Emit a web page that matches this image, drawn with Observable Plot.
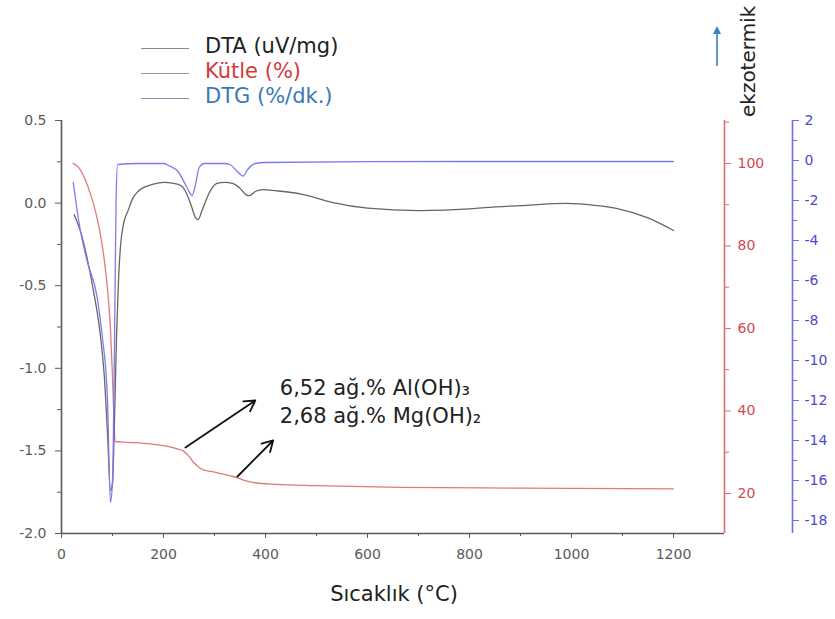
<!DOCTYPE html>
<html>
<head>
<meta charset="utf-8">
<script src="https://cdn.jsdelivr.net/npm/d3@7"></script>
<script src="https://cdn.jsdelivr.net/npm/@observablehq/plot@0.6"></script>
<style>
  body { margin: 0; background: #fff; font-family: "DejaVu Sans", "Liberation Sans", Arial, sans-serif; }
  #wrap { position: relative; width: 835px; height: 619px; overflow: hidden; }
  #chart { position: absolute; left: 0; top: 0; }
  .leg { position: absolute; left: 141px; font-size: 21px; }
  .leg span.ln { position: absolute; left: 0; width: 48px; height: 0; border-top: 1.5px solid #999; }
  .leg span.tx { position: absolute; left: 64px; white-space: nowrap; line-height: 1; }
  #ekzo { position: absolute; left: 738px; top: 117px; transform-origin: 0 0; transform: rotate(-90deg); font-size: 20px; color: #222; white-space: nowrap; line-height: 1; }
</style>
</head>
<body>
<div id="wrap">
  <div id="chart"></div>
  <div class="leg" style="top:48px"><span class="ln" style="border-color:#8a8a8a"></span><span class="tx" style="top:-12px;color:#222">DTA (uV/mg)</span></div>
  <div class="leg" style="top:73px"><span class="ln" style="border-color:#b09090"></span><span class="tx" style="top:-12px;color:#d43a3a">Kütle (%)</span></div>
  <div class="leg" style="top:98px"><span class="ln" style="border-color:#9090b0"></span><span class="tx" style="top:-12px;color:#3a78b8">DTG (%/dk.)</span></div>
  <div id="ekzo">ekzotermik</div>
  <svg style="position:absolute;left:710px;top:24px" width="14" height="44"><line x1="7" y1="42" x2="7" y2="6" stroke="#3a7fc0" stroke-width="1.6"/><path d="M3,10 L7,2 L11,10 Z" fill="#3a7fc0"/></svg>
</div>
<script>
// ---- data ----
const dtaT = [25, 40, 50, 62, 75, 84, 90, 96, 100, 104, 108, 112, 116, 122, 130, 140, 150, 165, 180, 200, 220, 235, 245, 255, 263, 268, 275, 285, 295, 305, 320, 335, 350, 362, 368, 380, 395, 420, 470, 530, 600, 700, 800, 830, 900, 990, 1050, 1090, 1150, 1200];
const dtaV = [-0.07, -0.2, -0.33, -0.52, -0.77, -1.05, -1.38, -1.74, -1.7, -1.3, -0.8, -0.45, -0.25, -0.12, -0.05, 0.03, 0.07, 0.1, 0.115, 0.125, 0.12, 0.105, 0.06, -0.02, -0.09, -0.1, -0.05, 0.03, 0.09, 0.12, 0.125, 0.12, 0.09, 0.05, 0.045, 0.07, 0.082, 0.075, 0.055, 0.005, -0.03, -0.045, -0.035, -0.027, -0.015, -0.002, -0.015, -0.033, -0.09, -0.166];

const dtgT = [23, 37, 50, 70, 80, 90, 96, 100, 104, 107, 110, 150, 200, 210, 230, 245, 256, 262, 270, 280, 320, 330, 345, 356, 365, 380, 400, 600, 800, 1000, 1200];
const dtgV = [-1.1, -3.5, -5.0, -6.85, -8.8, -11.85, -17.1, -16.0, -9.0, -2.0, -0.2, -0.15, -0.15, -0.25, -0.6, -1.3, -1.75, -1.3, -0.35, -0.15, -0.15, -0.2, -0.55, -0.78, -0.45, -0.15, -0.1, -0.06, -0.05, -0.05, -0.05];

const massT = [23, 35, 45, 57, 67, 76, 85, 92, 96, 100, 103, 105, 130, 175, 200, 227, 240, 250, 258, 268, 278, 300, 330, 345, 360, 380, 420, 500, 663, 900, 1200];
const massV = [100, 98.8, 96.5, 92.5, 88.2, 83, 75.5, 67, 60, 48, 38, 32.6, 32.4, 32, 31.6, 30.8, 30.2, 29, 27.7, 26.5, 25.7, 25.2, 24.3, 23.8, 23.1, 22.6, 22.2, 21.9, 21.5, 21.3, 21.1];

// axes / ticks
const xDomain = [0, 1300];
const xTicks = [0, 200, 400, 600, 800, 1000, 1200];
const xMinor = [100, 300, 500, 700, 900, 1100];
const leftDomain = [-2, 0.5];
const leftTicks = [-2, -1.5, -1, -0.5, 0, 0.5];
const leftMinor = [-1.75, -1.25, -0.75, -0.25, 0.25];
const redDomain = [10.3, 110.4];
const redTicks = [20, 40, 60, 80, 100];
const redMinor = [30, 50, 70, 90, 110];
const blueDomain = [-18.65, 2];
const blueTicks = [-18, -16, -14, -12, -10, -8, -6, -4, -2, 0, 2];
const blueMinor = [-17, -15, -13, -11, -9, -7, -5, -3, -1, 1];

// annotation
const noteText = ["6,52 ağ.% Al(OH)₃\n2,68 ağ.% Mg(OH)₂"];
const noteX = [428];
const noteY = [-1.19];
const arrowX1 = [243, 345];
const arrowY1 = [-1.48, -1.655];
const arrowX2 = [380, 415];
const arrowY2 = [-1.195, -1.437];
const xLabel = ["Sıcaklık (°C)"];

// ---- mapping secondary scales onto the primary y ----
const toLeft = (dom) => (v) => leftDomain[0] + (v - dom[0]) / (dom[1] - dom[0]) * (leftDomain[1] - leftDomain[0]);
const fromLeft = (dom) => (y) => dom[0] + (y - leftDomain[0]) / (leftDomain[1] - leftDomain[0]) * (dom[1] - dom[0]);
const redToLeft = toLeft(redDomain), leftToRed = fromLeft(redDomain);
const blueToLeft = toLeft(blueDomain), leftToBlue = fromLeft(blueDomain);

const dta = dtaT.map((t, i) => ({T: t, v: dtaV[i]}));
const dtg = dtgT.map((t, i) => ({T: t, v: blueToLeft(dtgV[i])}));
const mass = massT.map((t, i) => ({T: t, v: redToLeft(massV[i])}));
const arrows = arrowX1.map((x, i) => ({x1: x, y1: arrowY1[i], x2: arrowX2[i], y2: arrowY2[i]}));
const notes = noteText.map((t, i) => ({t, x: noteX[i], y: noteY[i]}));

const grey = "#5a5a5a", red = "#e06a6a", redTxt = "#d24a4a", blue = "#6e6ee0", blueTxt = "#4a4ad0";
const tickFont = 14;
const blueDx = 68;

const chart = Plot.plot({
  width: 835,
  height: 619,
  marginLeft: 61,
  marginRight: 111,
  marginTop: 120,
  marginBottom: 86,
  style: {fontFamily: "DejaVu Sans, Liberation Sans, Arial, sans-serif", fontSize: "14px", background: "transparent"},
  x: {domain: xDomain},
  y: {domain: leftDomain},
  marks: [
    // axis lines
    Plot.ruleY([leftDomain[0]], {stroke: grey, strokeWidth: 1.6}),
    Plot.ruleX([xDomain[0]], {stroke: grey, strokeWidth: 1.6}),
    Plot.ruleX([xDomain[1]], {stroke: red, strokeWidth: 1.6}),
    Plot.ruleX([xDomain[1]], {stroke: blue, strokeWidth: 1.6, dx: blueDx}),
    // x axis
    Plot.axisX({ticks: xTicks, tickSize: 5, tickPadding: 11, tickFormat: d => String(d), fontSize: tickFont, color: grey, label: null}),
    Plot.axisX({ticks: xMinor, tickSize: 3, tickFormat: () => "", color: grey, label: null}),
    // left axis
    Plot.axisY({anchor: "left", ticks: leftTicks, tickSize: 6, tickPadding: 9, tickFormat: d => d.toFixed(1), fontSize: tickFont, color: grey, label: null}),
    Plot.axisY({anchor: "left", ticks: leftMinor, tickSize: 4, tickFormat: () => "", color: grey, label: null}),
    // red axis
    Plot.axisY({anchor: "right", ticks: redTicks.map(redToLeft), tickSize: 6, tickPadding: 7, tickFormat: d => String(Math.round(leftToRed(d))), fontSize: tickFont, color: redTxt, stroke: red, label: null}),
    Plot.axisY({anchor: "right", ticks: redMinor.map(redToLeft), tickSize: 4, tickFormat: () => "", stroke: red, label: null}),
    // blue axis
    Plot.axisY({anchor: "right", dx: blueDx, ticks: blueTicks.map(blueToLeft), tickSize: 6, tickPadding: 6, tickFormat: d => String(Math.round(leftToBlue(d))), fontSize: tickFont, color: blueTxt, stroke: blue, label: null}),
    Plot.axisY({anchor: "right", dx: blueDx, ticks: blueMinor.map(blueToLeft), tickSize: 4, tickFormat: () => "", stroke: blue, label: null}),
    // series
    Plot.line(mass, {x: "T", y: "v", stroke: "#e07a7a", strokeWidth: 1.3, curve: "monotone-x"}),
    Plot.line(dta, {x: "T", y: "v", stroke: "#666666", strokeWidth: 1.3, curve: "monotone-x"}),
    Plot.line(dtg, {x: "T", y: "v", stroke: "#7b7bf0", strokeWidth: 1.3, curve: "monotone-x"}),
    // annotation
    Plot.arrow(arrows, {x1: "x1", y1: "y1", x2: "x2", y2: "y2", stroke: "#111", strokeWidth: 1.8, headLength: 10}),
    Plot.text(notes, {x: "x", y: "y", text: "t", textAnchor: "start", fontSize: 21, lineHeight: 1.33, fill: "#222"}),
    // x label
    Plot.text(xLabel, {x: 652, y: leftDomain[0], dy: 61, fontSize: 21, fill: "#222"})
  ]
});
document.getElementById("chart").appendChild(chart);
</script>
</body>
</html>
